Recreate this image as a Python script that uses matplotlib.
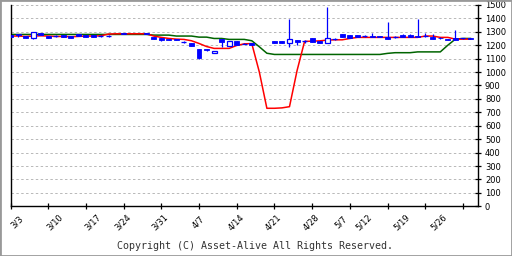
import numpy as np
import matplotlib
matplotlib.use("Agg")
import matplotlib.pyplot as plt
import matplotlib.transforms as mtrans
from matplotlib.patches import Rectangle

# trading-day index of each candle and its prices
days = [0, 1, 2, 3, 4, 5, 6, 7, 8, 9, 10, 11, 12, 13, 15, 18, 19, 20, 21, 22,
        23, 24, 25, 26, 27, 28, 29, 30, 31, 32, 35, 36, 37, 38, 39, 40, 41, 42,
        43, 44, 45, 46, 47, 48, 49, 50, 51, 52, 53, 54, 55, 56, 57, 58, 59, 60, 61]
opens = [1278, 1283, 1268, 1255, 1290, 1270, 1268, 1278, 1268, 1283, 1278, 1273, 1270, 1270,
         1292, 1292, 1260, 1253, 1245, 1248, 1225, 1218, 1171, 1169, 1139, 1248, 1196, 1231,
         1212, 1218, 1231, 1231, 1218, 1238, 1232, 1256, 1231, 1218, 1248, 1285, 1273, 1278,
         1266, 1268, 1270, 1258, 1262, 1273, 1273, 1270, 1268, 1263, 1257, 1245, 1250, 1250, 1255]
highs = [1278, 1283, 1268, 1298, 1290, 1270, 1278, 1278, 1268, 1283, 1278, 1273, 1278, 1276,
         1292, 1292, 1260, 1253, 1245, 1248, 1233, 1218, 1171, 1169, 1156, 1248, 1231, 1231,
         1218, 1218, 1231, 1231, 1395, 1238, 1240, 1256, 1231, 1486, 1255, 1285, 1273, 1278,
         1278, 1292, 1270, 1372, 1268, 1280, 1283, 1395, 1290, 1283, 1262, 1245, 1315, 1256, 1255]
lows = [1263, 1260, 1255, 1248, 1278, 1255, 1258, 1263, 1255, 1268, 1263, 1263, 1262, 1262,
        1280, 1280, 1248, 1230, 1238, 1238, 1218, 1196, 1099, 1154, 1139, 1188, 1196, 1201,
        1206, 1201, 1214, 1218, 1188, 1205, 1218, 1220, 1218, 1218, 1238, 1263, 1250, 1258,
        1258, 1260, 1260, 1248, 1256, 1260, 1260, 1258, 1262, 1245, 1245, 1236, 1238, 1244, 1243]
closes = [1263, 1273, 1255, 1298, 1278, 1255, 1268, 1263, 1255, 1268, 1263, 1263, 1270, 1270,
          1280, 1280, 1248, 1238, 1238, 1238, 1225, 1196, 1107, 1161, 1156, 1225, 1231, 1201,
          1212, 1201, 1214, 1218, 1245, 1221, 1232, 1220, 1218, 1255, 1248, 1263, 1250, 1258,
          1266, 1260, 1260, 1248, 1262, 1260, 1260, 1258, 1268, 1245, 1251, 1236, 1238, 1250, 1243]

# moving averages, one value per trading day 0..61
ma_short = [1268, 1268, 1265, 1268, 1270, 1268, 1265, 1265, 1263, 1265, 1268, 1268, 1270,
            1283, 1285, 1285, 1285, 1285, 1285, 1268, 1258, 1250, 1245, 1243, 1233, 1213,
            1190, 1176, 1176, 1176, 1198, 1210, 1212, 1000, 730, 730, 733, 742, 1010, 1228,
            1230, 1232, 1238, 1240, 1240, 1250, 1258, 1258, 1258, 1258, 1258, 1258, 1258,
            1258, 1258, 1268, 1268, 1258, 1258, 1245, 1245, 1245]
ma_long = [1280, 1280, 1280, 1280, 1280, 1280, 1280, 1280, 1280, 1280, 1280, 1280, 1280,
           1280, 1280, 1280, 1280, 1280, 1280, 1275, 1275, 1275, 1268, 1268, 1268, 1260,
           1260, 1250, 1250, 1243, 1243, 1243, 1233, 1188, 1140, 1131, 1131, 1131, 1131,
           1131, 1131, 1131, 1131, 1131, 1131, 1131, 1131, 1131, 1131, 1131, 1139, 1144,
           1144, 1144, 1150, 1150, 1150, 1150, 1200, 1245, 1250, 1250]

label_days = [0, 5, 10, 14, 19, 24, 29, 34, 39, 43, 46, 51, 56]
label_text = ["3/3", "3/10", "3/17", "3/24", "3/31", "4/7", "4/14", "4/21",
              "4/28", "5/7", "5/12", "5/19", "5/26"]

fig = plt.figure(figsize=(5.12, 2.56), dpi=100)
ax = fig.add_axes([10.5 / 512, (256 - 206.3) / 256, (478 - 10.5) / 512, 201.4 / 256])

blue = "#0000ff"
x_all = np.arange(len(ma_short))
ax.plot(x_all, ma_long, color="#006400", lw=1.1, zorder=2)
ax.plot(x_all, ma_short, color="#ff0000", lw=1.1, zorder=2)

o = np.array(opens); c = np.array(closes)
ax.vlines(days, lows, highs, color=blue, lw=0.9, zorder=3)
w = 0.66
for d, op, cl in zip(days, o, c):
    if op == cl:
        ax.hlines(op, d - w / 2, d + w / 2, color=blue, lw=0.9, zorder=4)
    elif cl > op:
        ax.bar(d, cl - op, bottom=op, width=w, facecolor="white", edgecolor=blue, lw=0.9, zorder=4)
    else:
        ax.bar(d, op - cl, bottom=cl, width=w, facecolor=blue, edgecolor=blue, lw=0.6, zorder=4)

ax.set_xlim(0, 62)
ax.set_ylim(0, 1500)
ax.set_yticks(np.arange(0, 1501, 100))
ax.yaxis.tick_right()
ax.tick_params(axis="y", direction="inout", length=5, width=0.9, labelsize=6, pad=2.5)
ax.set_xticks(np.arange(0, 61, 5))
ax.tick_params(axis="x", direction="inout", length=5, width=0.9, labelbottom=False)
for s in ["left", "right", "bottom"]:
    ax.spines[s].set_linewidth(1.0)
ax.spines["top"].set_visible(False)
for v in range(100, 1501, 100):
    ax.axhline(v, color="#b8b8b8", lw=0.7, ls=(0, (2.5, 2.5)), zorder=1)

trans = mtrans.blended_transform_factory(ax.transData, ax.transAxes) + \
    mtrans.ScaledTranslation(6.5 / 100, -16 / 100, fig.dpi_scale_trans)
for d, t in zip(label_days, label_text):
    ax.text(d, 0, t, transform=trans, rotation=45, ha="center", va="center", fontsize=6)

fig.text(255 / 512, 1 - 246 / 256, "Copyright (C) Asset-Alive All Rights Reserved.",
         family="DejaVu Sans Mono", fontsize=7.2, color="#333333", ha="center", va="center")
fig.patches.append(Rectangle((0, 0), 1, 1, transform=fig.transFigure, fill=False,
                             edgecolor="#999999", lw=2))

fig.savefig("out.png", dpi=100)
